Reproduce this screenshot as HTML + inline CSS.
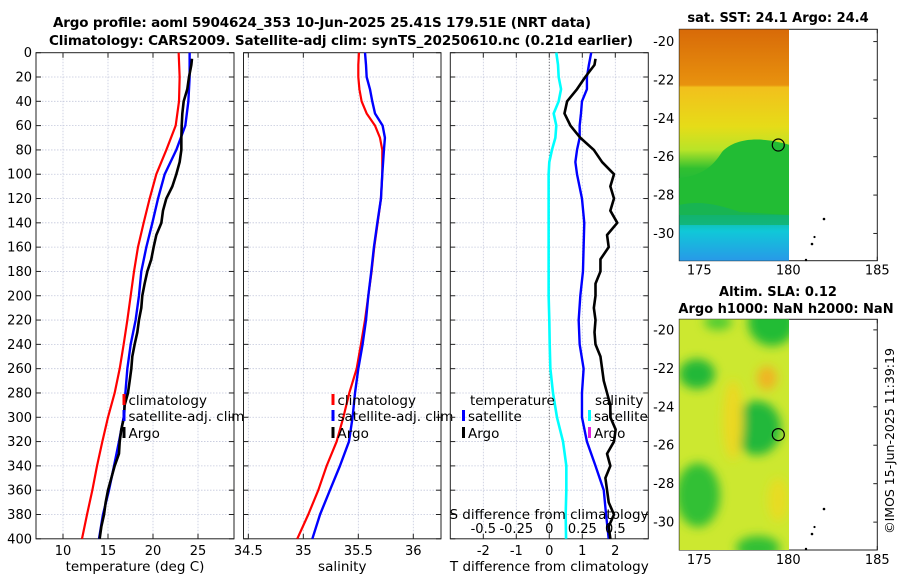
<!DOCTYPE html>
<html><head><meta charset="utf-8"><style>
body{margin:0;background:#fff}
svg{display:block;font-family:"DejaVu Sans","Liberation Sans",sans-serif}
</style></head><body>
<svg id="c" width="900" height="580" viewBox="0 0 900 580" xmlns="http://www.w3.org/2000/svg">
<defs>
<linearGradient id="sstg" x1="0" y1="0" x2="0" y2="1">
<stop offset="0" stop-color="#d86a08"/><stop offset="0.24" stop-color="#e8920e"/>
<stop offset="0.25" stop-color="#f2c01c"/><stop offset="0.42" stop-color="#e6dc18"/>
<stop offset="0.52" stop-color="#b8e428"/><stop offset="0.6" stop-color="#30c030"/>
<stop offset="0.72" stop-color="#14b444"/><stop offset="0.8" stop-color="#10b890"/>
<stop offset="0.87" stop-color="#10c8d8"/><stop offset="1" stop-color="#2898e8"/>
</linearGradient>
<filter id="bl" x="-50%" y="-50%" width="200%" height="200%"><feGaussianBlur stdDeviation="5"/></filter>
<clipPath id="cl1"><rect x="679.3" y="29.3" width="109.7" height="231.4"/></clipPath>
<clipPath id="cl2"><rect x="679.3" y="319.3" width="109.7" height="230.7"/></clipPath>
</defs>
<g font-weight="bold" font-size="13.5" text-anchor="middle">
<text x="322" y="27" textLength="538">Argo profile: aoml 5904624_353 10-Jun-2025 25.41S 179.51E (NRT data)</text>
<text x="341" y="45" textLength="584">Climatology: CARS2009. Satellite-adj clim: synTS_20250610.nc (0.21d earlier)</text>
</g>
<g id="plots"></g>
<g>
<g clip-path="url(#cl1)">
<rect x="679.3" y="29.3" width="110" height="232" fill="url(#sstg)"/>
<path d="M679,178 C700,176 712,168 722,152 C735,138 760,136 790,145 L790,215 L679,215Z" fill="#22bc34"/>
<path d="M679,205 C700,200 720,205 740,212 L790,215 L790,225 L679,225Z" fill="#14b060" opacity="0.7"/>
</g>
<circle cx="778.3" cy="145" r="6" fill="none" stroke="#000" stroke-width="1.2"/>
<g fill="#000"><circle cx="824" cy="219" r="1.3"/><circle cx="814.5" cy="237" r="1.1"/><circle cx="812" cy="244" r="1.3"/><circle cx="806" cy="260" r="1.2"/></g>
<text x="778" y="22" text-anchor="middle" font-weight="bold" font-size="13">sat. SST: 24.1 Argo: 24.4</text>
</g>
<g>
<g clip-path="url(#cl2)">
<rect x="679.3" y="319.3" width="110" height="231" fill="#cce830"/>
<g filter="url(#bl)">
<ellipse cx="697" cy="374" rx="18" ry="15" fill="#22b838"/>
<ellipse cx="772" cy="322" rx="24" ry="24" fill="#22bc34"/>
<ellipse cx="718" cy="322" rx="14" ry="8" fill="#50cc30"/>
<ellipse cx="757" cy="428" rx="24" ry="27" fill="#20b83a"/>
<ellipse cx="698" cy="495" rx="22" ry="32" fill="#30c034"/>
<ellipse cx="758" cy="548" rx="22" ry="12" fill="#30c034"/>
<ellipse cx="767" cy="378" rx="10" ry="12" fill="#f0b420"/>
<ellipse cx="733" cy="420" rx="10" ry="40" fill="#ecd820"/>
<ellipse cx="778" cy="500" rx="10" ry="22" fill="#e8dc20"/>
</g>
</g>
<circle cx="778.3" cy="434.6" r="6" fill="none" stroke="#000" stroke-width="1.2"/>
<g fill="#000"><circle cx="824" cy="509" r="1.3"/><circle cx="814.5" cy="527" r="1.1"/><circle cx="812" cy="534" r="1.3"/><circle cx="806" cy="549" r="1.2"/></g>
<text x="778" y="296" text-anchor="middle" font-weight="bold" font-size="13">Altim. SLA: 0.12</text>
<text x="786" y="313" text-anchor="middle" font-weight="bold" font-size="13">Argo h1000: NaN h2000: NaN</text>
</g>
<text transform="translate(894,441) rotate(-90)" text-anchor="middle" font-size="12.5">©IMOS 15-Jun-2025 11:39:19</text>
</svg>
<script>
// ---- data ----
const depthStd = [0,20,40,60,80,100,120,140,160,180,200,220,240,260,280,300,320,340,360,380,400];
const depthArgo = [5,10,20,30,40,50,60,70,80,90,100,110,120,130,140,150,160,170,180,190,200,210,220,230,240,250,260,270,280,290,300,310,320,330,340,350,360,370,380,390,400];
const tempClim = [22.85,22.96,22.89,22.52,21.48,20.37,19.63,18.96,18.33,17.89,17.52,17.15,16.74,16.30,15.74,15.00,14.37,13.78,13.26,12.67,12.11];
const tempSat = [24.07,24.07,23.93,23.59,22.59,21.30,20.56,19.93,19.26,18.70,18.44,18.07,17.52,17.15,16.93,16.74,16.22,15.67,15.11,14.44,14.00];
const tempArgo = [24.33,24.26,24.0,23.81,23.41,23.26,23.19,23.15,23.15,22.96,22.59,22.15,21.48,21.11,20.93,20.37,20.07,19.81,19.37,19.07,18.81,18.70,18.44,18.26,17.96,17.70,17.59,17.41,17.22,16.85,16.78,16.48,16.30,16.22,15.74,15.37,15.00,14.74,14.56,14.26,14.07];
const depthSal = [0,10,20,30,40,50,60,70,80,100,120,140,160,180,200,220,240,260,280,300,320,340,360,380,400];
const salClim = [35.506,35.50,35.50,35.51,35.53,35.576,35.652,35.697,35.718,35.718,35.706,35.676,35.645,35.621,35.591,35.561,35.524,35.485,35.418,35.364,35.303,35.212,35.136,35.045,34.945];
const salSat = [35.561,35.570,35.576,35.606,35.627,35.652,35.721,35.742,35.733,35.718,35.706,35.673,35.642,35.618,35.591,35.570,35.539,35.500,35.470,35.448,35.415,35.333,35.242,35.152,35.082];
const depthDiff = [0,10,20,30,40,50,60,70,80,90,100,120,140,160,180,200,220,240,260,280,300,320,340,360,380,400];
const sDiffSat = [0.053,0.066,0.071,0.089,0.071,0.033,0.053,0.046,0.020,0,-0.005,-0.005,-0.005,-0.005,-0.005,-0.005,0,0.003,0.008,0.028,0.058,0.104,0.129,0.129,0.124,0.127];
const tDiffSat = [1.27,1.20,1.14,1.14,0.99,0.96,0.92,0.92,0.84,0.79,0.84,0.99,1.06,1.04,1.02,0.94,0.89,0.92,1.04,0.99,0.99,1.14,1.40,1.65,1.72,1.80];
const tDiffArgo = [1.40,1.37,1.09,0.84,0.54,0.46,0.64,0.94,1.35,1.60,1.96,1.85,1.96,1.85,2.06,1.75,1.80,1.55,1.55,1.40,1.40,1.35,1.40,1.37,1.40,1.55,1.60,1.65,1.75,1.85,1.85,2.01,1.96,1.75,1.85,1.70,1.75,1.80,1.96,1.80,1.85];
const depthTicks = [0,20,40,60,80,100,120,140,160,180,200,220,240,260,280,300,320,340,360,380,400];
const tempTicks = [10,15,20,25];
const salTicks = [34.5,35,35.5,36];
const tdTicks = [-2,-1,0,1,2];
const sdTicks = [-0.5,-0.25,0,0.25,0.5];
const lonTicks = [175,180,185];
const latTicks = [-20,-22,-24,-26,-28,-30];

const NS='http://www.w3.org/2000/svg';
const svg=document.getElementById('c'), root=document.getElementById('plots');
function mk(tag,at,parent){const e=document.createElementNS(NS,tag);for(const k in at)e.setAttribute(k,at[k]);(parent||root).appendChild(e);return e;}
const Y0=52.7,Y1=538.8;
const yD=d=>Y0+(d/400)*(Y1-Y0);
function panel(name,x0,x1,vmin,vmax,ticks,label,showY){
  const g=mk('g',{});
  
  
  const sx=v=>x0+(v-vmin)/(vmax-vmin)*(x1-x0);
  depthTicks.forEach(d=>{ if(d>0&&d<400) mk('line',{x1:x0,x2:x1,y1:yD(d),y2:yD(d),stroke:'#c4c8dc','stroke-width':0.8,'stroke-dasharray':'1.5,1.5'},g);});
  ticks.forEach(t=>{ mk('line',{x1:sx(t),x2:sx(t),y1:Y0,y2:Y1,stroke:'#c4c8dc','stroke-width':0.8,'stroke-dasharray':'1.5,1.5'},g);});
  mk('rect',{x:x0,y:Y0,width:x1-x0,height:Y1-Y0,fill:'none',stroke:'#222','stroke-width':1},g);
  depthTicks.forEach(d=>{
    mk('line',{x1:x0,x2:x0+5,y1:yD(d),y2:yD(d),stroke:'#222'},g);
    mk('line',{x1:x1-5,x2:x1,y1:yD(d),y2:yD(d),stroke:'#222'},g);
    if(showY){const t=mk('text',{x:x0-4,y:yD(d)+4.5,'text-anchor':'end','font-size':13},g);t.textContent=d;
      
      }
  });
  ticks.forEach(v=>{
    mk('line',{x1:sx(v),x2:sx(v),y1:Y1,y2:Y1-5,stroke:'#222'},g);
    mk('line',{x1:sx(v),x2:sx(v),y1:Y0,y2:Y0+5,stroke:'#222'},g);
    const t=mk('text',{x:sx(v),y:555,'text-anchor':'middle','font-size':13},g);t.textContent=v;
    
    
  });
  const lt=mk('text',{x:(x0+x1)/2,y:571,'text-anchor':'middle','font-size':13.5},g);lt.textContent=label;
  
  
  return {g,sx};
}
function line(p,vals,deps,color,w,name){
  const d=vals.map((v,i)=>(i?'L':'M')+p.sx(v).toFixed(2)+','+yD(deps[i]).toFixed(2)).join(' ');
  const e=mk('path',{d,fill:'none',stroke:color,'stroke-width':w,'stroke-linejoin':'round'},p.g);
  
  
}
function legend(g,x,y,color,label,name){
  mk('rect',{x:x,y:y-7,width:3,height:11,fill:color},g);
  const t=mk('text',{x:x+6,y:y+4,'font-size':13.5},g);t.textContent=label;
  
  
}
// panel 1
const p1=panel('temperature-panel',36,234,7,29,tempTicks,'temperature (deg C)',true);
line(p1,tempClim,depthStd,'#f00',2.2,'temp-climatology-line');
line(p1,tempSat,depthStd,'#00f',2.4,'temp-satellite-line');
line(p1,tempArgo,depthArgo,'#000',2.6,'temp-argo-line');
legend(p1.g,122.5,401,'#f00','climatology','legend-climatology');
legend(p1.g,122.5,417,'#00f','satellite-adj. clim','legend-satellite-adj');
legend(p1.g,122.5,434,'#000','Argo','legend-argo');
// panel 2
const p2=panel('salinity-panel',243.5,441,34.456,36.252,salTicks,'salinity',false);
line(p2,salClim,depthSal,'#f00',2.2,'sal-climatology-line');
line(p2,salSat,depthSal,'#00f',2.4,'sal-satellite-line');
legend(p2.g,331.5,401,'#f00','climatology','legend-climatology-sal');
legend(p2.g,331.5,417,'#00f','satellite-adj. clim','legend-satellite-adj-sal');
legend(p2.g,331.5,434,'#000','Argo','legend-argo-sal');
// panel 3
const p3=panel('difference-panel',450.3,648.3,-3,3,tdTicks,'T difference from climatology',false);
const zx=p3.sx(0);
mk('line',{x1:zx,x2:zx,y1:Y0,y2:Y1,stroke:'#555','stroke-width':1,'stroke-dasharray':'1,2'},p3.g);
const p3s={g:p3.g,sx:v=>p3.sx(v*4)};
line(p3s,sDiffSat,depthDiff,'#0ff',2.6,'sal-diff-satellite-line');
line(p3,tDiffSat,depthDiff,'#00f',2.4,'temp-diff-satellite-line');
line(p3,tDiffArgo,depthArgo,'#000',2.6,'temp-diff-argo-line');
{const t=mk('text',{x:470,y:405,'font-size':13.5},p3.g);t.textContent='temperature';}
legend(p3.g,462,417,'#00f','satellite','legend-t-satellite');
legend(p3.g,462,434,'#000','Argo','legend-t-argo');
{const t=mk('text',{x:595,y:405,'font-size':13.5},p3.g);t.textContent='salinity';}
legend(p3.g,588,417,'#0ff','satellite','legend-s-satellite');
legend(p3.g,588,434,'#e020e0','Argo','legend-s-argo');
{const t=mk('text',{x:549,y:519,'text-anchor':'middle','font-size':13.5},p3.g);t.textContent='S difference from climatology';}
sdTicks.forEach(v=>{const t=mk('text',{x:p3s.sx(v),y:533,'text-anchor':'middle','font-size':13},p3.g);t.textContent=v;
  
  });
// map axes
function mapAxes(name,top,bot,latTop,latBot){
  const g=mk('g',{});
  
  
  const x0=679.3,x1=877.3,lmin=173.88,lmax=185.0;
  const sx=v=>x0+(v-lmin)/(lmax-lmin)*(x1-x0);
  const sy=v=>top+(latTop-v)/(latTop-latBot)*(bot-top);
  mk('rect',{x:x0,y:top,width:x1-x0,height:bot-top,fill:'none',stroke:'#222'},g);
  lonTicks.forEach(v=>{mk('line',{x1:sx(v),x2:sx(v),y1:bot,y2:bot-4,stroke:'#222'},g);mk('line',{x1:sx(v),x2:sx(v),y1:top,y2:top+4,stroke:'#222'},g);
    const t=mk('text',{x:sx(v),y:bot+14,'text-anchor':'middle','font-size':13},g);t.textContent=v;
    
    });
  latTicks.forEach(v=>{mk('line',{x1:x0,x2:x0+4,y1:sy(v),y2:sy(v),stroke:'#222'},g);mk('line',{x1:x1-4,x2:x1,y1:sy(v),y2:sy(v),stroke:'#222'},g);
    const t=mk('text',{x:x0-5,y:sy(v)+4.5,'text-anchor':'end','font-size':13},g);t.textContent=v;
    
    });
}
mapAxes('sst-map-axes',29.3,260.7,-19.36,-31.42);
mapAxes('sla-map-axes',319.3,550,-19.45,-31.45);
</script>
</body></html>
